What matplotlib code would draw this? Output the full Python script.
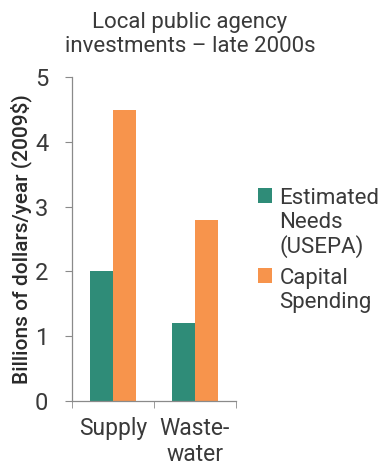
import numpy as np
import matplotlib.pyplot as plt

plt.rcParams['font.family'] = ['Roboto', 'DejaVu Sans']

categories = ["Supply", "Waste-\nwater"]
needs = [2.0, 1.2]
spending = [4.5, 2.8]
series_names = ["Estimated\nNeeds\n(USEPA)", "Capital\nSpending"]
yticks = [0, 1, 2, 3, 4, 5]

teal = "#2f8c78"
orange = "#f7944c"
text_col = "#3a3a3a"
spine_col = "#8a8a8a"

fig = plt.figure(figsize=(3.8, 4.71), dpi=100)
ax = fig.add_axes([0.189, 0.149, 0.432, 0.687])

x = np.arange(len(categories))
w = 0.28
ax.bar(x - w / 2, needs, w, color=teal, label=series_names[0])
ax.bar(x + w / 2, spending, w, color=orange, label=series_names[1])

ax.set_xlim(-0.5, 1.5)
ax.set_ylim(0, 5)
ax.set_yticks(yticks)
ax.set_xticks(x)
ax.set_xticklabels(categories, fontsize=16.5, color=text_col, linespacing=1.15)
ax.set_xticks([-0.5, 0.5, 1.5], minor=True)
ax.tick_params(axis='x', which='major', length=0, pad=12)
ax.tick_params(axis='x', which='minor', length=5, color=spine_col)
ax.tick_params(axis='y', labelsize=17, labelcolor=text_col, length=5,
               color=spine_col, pad=12)

for s in ["top", "right"]:
    ax.spines[s].set_visible(False)
for s in ["left", "bottom"]:
    ax.spines[s].set_color(spine_col)
    ax.spines[s].set_linewidth(0.9)

ax.set_ylabel("Billions of dollars/year (2009$)", fontsize=15,
              color="#2a2a2a", fontweight="medium", labelpad=2)

fig.text(0.5, 0.975, "Local public agency\ninvestments \u2013 late 2000s",
         ha="center", va="top", fontsize=16, color=text_col, linespacing=1.2)

leg = ax.legend(loc="upper left", bbox_to_anchor=(0.68, 0.6),
                bbox_transform=fig.transFigure, frameon=False, fontsize=16,
                labelcolor=text_col, handlelength=0.6, handleheight=0.6,
                handletextpad=0.35, labelspacing=0.45, borderaxespad=0,
                borderpad=0)
for t in leg.get_texts():
    t.set_linespacing(1.15)
# put each swatch next to the first line of its label
for col in leg._legend_handle_box.get_children():
    for row in col.get_children():
        row.align = "top"

fig.savefig("out.png", dpi=100)
